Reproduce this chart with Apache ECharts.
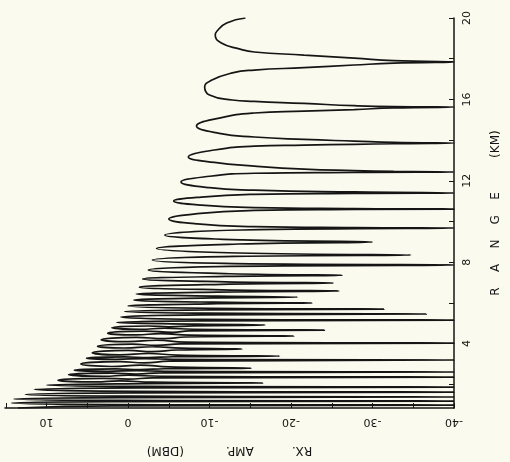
<!DOCTYPE html>
<html>
<head>
<meta charset="utf-8">
<script src="https://cdn.jsdelivr.net/npm/echarts@6/dist/echarts.min.js"></script>
<style>
html,body{margin:0;padding:0;background:#fafaee;}
#chart{width:510px;height:462px;}
</style>
</head>
<body>
<div id="chart"></div>
<script>
// Range (km) of each traced point, from far range down to near range
const rangeKm = [
  20.0, 19.75, 19.35, 19.16, 18.77, 18.48, 18.33, 18.18, 18.03, 17.90, 17.84,
  17.78, 17.69, 17.56, 17.44, 17.30, 16.95, 16.61, 16.21, 15.97, 15.90, 15.80, 15.69, 15.64, 15.62,
  15.58, 15.50, 15.42, 15.33, 15.08, 14.69, 14.33, 14.15, 14.03, 13.95, 13.89, 13.85,
  13.82, 13.79, 13.75, 13.70, 13.51, 13.17, 12.90, 12.72, 12.57, 12.50, 12.46, 12.43,
  12.41, 12.37, 12.22, 11.94, 11.66, 11.54, 11.45, 11.40,
  11.38, 11.33, 11.20, 11.00, 10.80, 10.68, 10.63, 10.61,
  10.59, 10.54, 10.38, 10.12, 9.88, 9.75, 9.70, 9.68,
  9.58, 9.33, 9.09, 8.99,
  8.89, 8.67, 8.45, 8.35,
  8.28, 8.10, 7.93, 7.86,
  7.79, 7.61, 7.43, 7.36,
  7.30, 7.17, 7.03, 6.97,
  6.91, 6.77, 6.64, 6.58,
  6.53, 6.43, 6.33, 6.28,
  6.24, 6.14, 6.03, 5.99,
  5.95, 5.84, 5.73, 5.69,
  5.65, 5.57, 5.49, 5.45,
  5.41, 5.30, 5.19, 5.15,
  5.11, 5.03, 4.95, 4.91,
  4.87, 4.82, 4.86, 4.78, 4.70, 4.75, 4.70, 4.66,
  4.62, 4.55, 4.61, 4.51, 4.42, 4.49, 4.41, 4.37,
  4.32, 4.24, 4.30, 4.19, 4.09, 4.16, 4.07, 4.02,
  3.98, 3.91, 3.97, 3.87, 3.78, 3.84, 3.77, 3.73,
  3.68, 3.60, 3.66, 3.55, 3.44, 3.51, 3.43, 3.38,
  3.35, 3.31, 3.34, 3.28, 3.22, 3.26, 3.22, 3.19,
  3.13, 3.05, 3.11, 2.99, 2.87, 2.94, 2.85, 2.79,
  2.76, 2.72, 2.75, 2.69, 2.63, 2.67, 2.63, 2.60,
  2.56, 2.50, 2.54, 2.47, 2.39, 2.44, 2.39, 2.35,
  2.31, 2.25, 2.29, 2.20, 2.11, 2.16, 2.10, 2.06,
  2.03, 1.96, 1.89, 1.86,
  1.82, 1.74, 1.65, 1.61,
  1.57, 1.49, 1.41, 1.37,
  1.34, 1.27, 1.20, 1.17,
  1.14, 1.07, 1.00, 0.97,
  0.93, 0.83
];
// Received amplitude (dBm) at each traced point
const rxAmpDbm = [
  -14.4, -12.1, -10.9, -10.7, -11.45, -13.65, -15.5, -21.6, -27.75, -32.6, -40,
  -32.6, -27.75, -21.6, -15.5, -12.8, -10.3, -9.4, -10.0, -12.8, -15.5, -21.6, -27.75, -32.6, -40,
  -32.6, -27.75, -21.6, -15.5, -11.2, -8.4, -11.2, -15.5, -21.6, -27.75, -32.6, -40,
  -32.6, -27.75, -21.6, -15.5, -10.6, -7.4, -10.6, -15.5, -21.6, -27.75, -32.6, -40,
  -27.75, -15.5, -10.0, -6.5, -10.0, -15.5, -27.75, -40,
  -27.75, -15.5, -9.0, -5.6, -9.0, -15.5, -27.75, -40,
  -27.75, -15.5, -8.5, -5.0, -8.5, -15.5, -27.75, -40,
  -14, -4.5, -14, -30.0,
  -13.5, -3.5, -13.5, -34.7,
  -13, -3.0, -13, -40,
  -12.5, -2.5, -12.5, -26.3,
  -12, -1.8, -12, -25.2,
  -11.5, -1.4, -11.5, -25.9,
  -11, -1.0, -11, -20.8,
  -10.5, -0.7, -10.5, -22.6,
  -10, 0.0, -10, -31.4,
  -9.5, 0.4, -9.5, -36.6,
  -9, 0.9, -9, -40,
  -8.5, 1.4, -8.5, -16.8,
  -8, -5, -2.5, 2.0, -1.5, -4.5, -8, -24.1,
  -7.5, -5.5, -2, 2.5, -1, -4, -7.5, -20.4,
  -7, -4.5, -1, 3.3, 0, -3.5, -7, -40,
  -6.5, -3.5, -0.5, 3.75, 0.5, -3, -6.5, -14.0,
  -6, -3, 0, 4.4, 1, -2.5, -6, -18.6,
  -5.5, -2.5, 0.5, 5.1, 1.5, -2, -5.5, -40,
  -5, -2, 1, 5.8, 2, -1.5, -5, -15.1,
  -4.5, -1.5, 1.5, 6.6, 2.5, -1, -4.5, -40,
  -4, -1, 2, 7.3, 3, 0, -4, -40,
  -3, 0, 3, 8.6, 4, 1, -3, -16.5,
  -2, 10.0, -2, -40,
  -1, 11.5, -1, -40,
  0, 12.6, 0, -40,
  1, 14.0, 1, -40,
  2, 14.3, 2, -40,
  2, 13.5
];
const ampTickValues = [-40, -35, -30, -25, -20, -15, -10, -5, 0, 5, 10, 15];
const ampLabelValues = [-40, -30, -20, -10, 0, 10];
const rangeTickValues = [2, 4, 6, 8, 10, 12, 14, 16, 18, 20];
const rangeLabelValues = [4, 8, 12, 16, 20];

const points = rangeKm.map((r, i) => [rxAmpDbm[i], r]);
const ink = '#151515';
const font = 'DejaVu Sans';

const chart = echarts.init(document.getElementById('chart'), null, {renderer: 'canvas'});
chart.setOption({
  backgroundColor: '#fafaee',
  animation: false,
  grid: {left: 5, right: 54, top: 18, bottom: 54, containLabel: false},
  xAxis: {
    type: 'value',
    inverse: true,
    min: -40,
    max: 15.1,
    position: 'bottom',
    name: 'RX.          AMP.           (DBM)',
    nameLocation: 'middle',
    nameRotate: 180,
    nameGap: 36,
    nameTextStyle: {color: ink, fontFamily: font, fontSize: 12},
    axisLine: {show: true, onZero: false, lineStyle: {color: ink, width: 1.5}},
    axisTick: {show: true, inside: true, length: 5, customValues: ampTickValues, lineStyle: {color: ink, width: 1}},
    axisLabel: {show: true, rotate: 180, margin: 8, customValues: ampLabelValues, color: ink, fontFamily: font, fontSize: 11},
    splitLine: {show: false}
  },
  yAxis: {
    type: 'value',
    min: 0.83,
    max: 20,
    position: 'right',
    name: 'R    A    N    G    E         (KM)',
    nameLocation: 'middle',
    nameRotate: 90,
    nameGap: 36,
    nameTextStyle: {color: ink, fontFamily: font, fontSize: 12},
    axisLine: {show: true, onZero: false, lineStyle: {color: ink, width: 1.5}},
    axisTick: {show: true, inside: true, length: 5, customValues: rangeTickValues, lineStyle: {color: ink, width: 1}},
    axisLabel: {show: true, rotate: 90, margin: 8, customValues: rangeLabelValues, color: ink, fontFamily: font, fontSize: 11},
    splitLine: {show: false}
  },
  series: [{
    type: 'line',
    data: points,
    showSymbol: false,
    symbol: 'none',
    clip: true,
    smooth: 0.5,
    lineStyle: {color: ink, width: 1.7}
  }]
});
</script>
</body>
</html>
